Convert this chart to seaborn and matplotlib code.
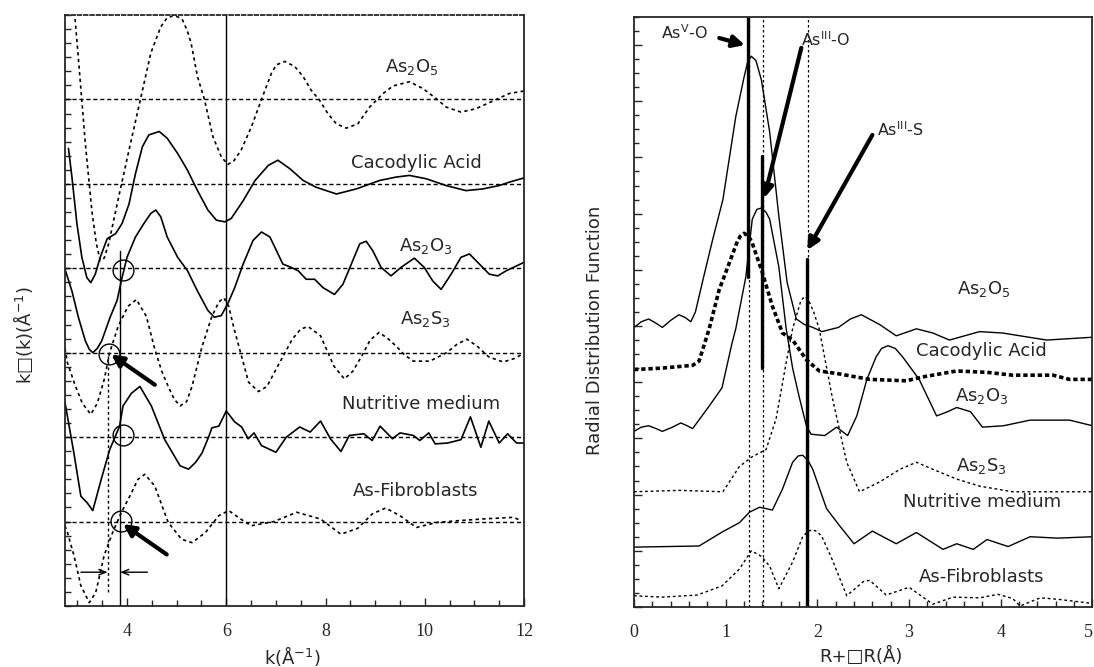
import pandas as pd
import matplotlib.pyplot as plt
import seaborn as sns
from matplotlib.ticker import MultipleLocator

sns.set_style('ticks')
plt.rcParams['font.family'] = ['DejaVu Sans']
plt.rcParams['mathtext.fontset'] = 'dejavusans'
plt.rcParams['xtick.direction'] = 'in'
plt.rcParams['ytick.direction'] = 'in'

# ---------------- left panel: k-space spectra (stacked, offset baselines) ----------------
baselines = [1, 2, 3, 4, 5, 6]

k_as2o5 = [2.75, 2.95, 3.05, 3.16, 3.29, 3.38, 3.46, 3.54, 3.63, 3.83, 4.04, 4.27, 4.48, 4.68, 4.8,
           4.92, 5.02, 5.12, 5.21, 5.29, 5.42, 5.56, 5.73, 5.9, 6.03, 6.15, 6.3, 6.51, 6.71, 6.91,
           7.01, 7.18, 7.38, 7.55, 7.71, 7.88, 8.05, 8.22, 8.42, 8.65, 8.89, 9.16, 9.36, 9.69,
           9.96, 10.23, 10.43, 10.73, 11.03, 11.37, 11.7, 12.0]
chi_as2o5 = [8.3, 6.98, 6.27, 5.48, 4.69, 4.3, 4.09, 4.12, 4.29, 4.84, 5.4, 6.0, 6.55, 6.86, 6.96,
             6.99, 6.98, 6.94, 6.82, 6.67, 6.27, 6.0, 5.56, 5.32, 5.23, 5.27, 5.4, 5.68, 6.0, 6.31,
             6.41, 6.45, 6.39, 6.27, 6.11, 5.99, 5.83, 5.71, 5.66, 5.71, 5.91, 6.07, 6.16, 6.21,
             6.13, 6.01, 5.91, 5.85, 5.89, 5.98, 6.07, 6.1]

k_caco = [2.82, 2.89, 2.99, 3.09, 3.19, 3.27, 3.36, 3.46, 3.6, 3.77, 3.9, 4.04, 4.17, 4.31, 4.44,
          4.65, 4.81, 5.02, 5.22, 5.42, 5.63, 5.8, 5.97, 6.1, 6.34, 6.58, 6.85, 7.04, 7.28, 7.55,
          7.81, 8.22, 8.62, 9.09, 9.42, 9.69, 10.03, 10.43, 10.83, 11.17, 11.5, 11.7, 12.0]
chi_caco = [5.42, 5.08, 4.53, 4.13, 3.89, 3.83, 3.93, 4.13, 4.35, 4.41, 4.53, 4.76, 5.12, 5.44, 5.58,
            5.62, 5.54, 5.36, 5.16, 4.92, 4.69, 4.57, 4.55, 4.59, 4.8, 5.04, 5.22, 5.28, 5.18, 5.04,
            4.96, 4.88, 4.94, 5.04, 5.08, 5.1, 5.06, 4.98, 4.92, 4.94, 4.98, 5.02, 5.07]

k_as2o3 = [2.75, 2.89, 3.02, 3.16, 3.24, 3.31, 3.4, 3.49, 3.66, 3.8, 3.9, 4.0, 4.17, 4.34, 4.48,
           4.58, 4.68, 4.81, 5.02, 5.22, 5.42, 5.63, 5.76, 5.9, 6.03, 6.17, 6.34, 6.54, 6.71, 6.88,
           7.01, 7.14, 7.31, 7.45, 7.61, 7.78, 7.95, 8.18, 8.35, 8.52, 8.69, 8.82, 8.95, 9.12,
           9.32, 9.52, 9.79, 9.99, 10.16, 10.33, 10.53, 10.73, 10.9, 11.1, 11.3, 11.47, 11.64, 12.0]
chi_as2o3 = [3.99, 3.73, 3.42, 3.14, 3.04, 3.0, 3.05, 3.14, 3.42, 3.62, 3.89, 4.13, 4.37, 4.53, 4.65,
             4.69, 4.61, 4.37, 4.13, 3.97, 3.73, 3.5, 3.42, 3.44, 3.58, 3.77, 4.05, 4.33, 4.43, 4.37,
             4.21, 4.05, 4.01, 3.97, 3.87, 3.87, 3.77, 3.69, 3.81, 4.05, 4.29, 4.32, 4.21, 4.01,
             3.91, 4.01, 4.12, 4.01, 3.85, 3.75, 3.93, 4.13, 4.17, 4.05, 3.93, 3.91, 3.97, 4.07]

k_as2s3 = [2.75, 2.8, 2.95, 3.1, 3.27, 3.4, 3.54, 3.65, 3.82, 4.02, 4.19, 4.39, 4.56, 4.7, 4.83,
           4.95, 5.07, 5.2, 5.31, 5.51, 5.71, 5.85, 5.95, 6.05, 6.15, 6.45, 6.65, 6.82, 7.0, 7.33,
           7.5, 7.65, 7.9, 8.17, 8.38, 8.55, 8.73, 8.9, 9.08, 9.25, 9.42, 9.6, 9.77, 10.1, 10.44,
           10.65, 10.85, 11.05, 11.29, 11.58, 11.8, 11.96]
chi_as2s3 = [3.05, 2.88, 2.62, 2.4, 2.27, 2.4, 2.68, 3.0, 3.31, 3.55, 3.63, 3.43, 3.04, 2.78, 2.6,
             2.45, 2.37, 2.42, 2.6, 3.07, 3.43, 3.6, 3.65, 3.55, 3.3, 2.65, 2.54, 2.6, 2.8, 3.16,
             3.28, 3.31, 3.2, 2.84, 2.69, 2.78, 2.96, 3.15, 3.24, 3.17, 3.08, 2.97, 2.9, 2.9, 3.0,
             3.1, 3.16, 3.08, 2.95, 2.89, 2.93, 2.98]

k_nutri = [2.75, 2.93, 3.07, 3.2, 3.31, 3.48, 3.65, 3.85, 3.92, 4.09, 4.26, 4.49, 4.76, 5.07, 5.24,
           5.38, 5.51, 5.65, 5.71, 5.85, 6.0, 6.17, 6.31, 6.44, 6.56, 6.71, 7.0, 7.21, 7.48, 7.69,
           7.9, 8.1, 8.31, 8.48, 8.77, 8.94, 9.1, 9.35, 9.5, 9.77, 9.9, 10.08, 10.21, 10.46,
           10.73, 10.92, 11.13, 11.29, 11.5, 11.67, 11.85, 12.0]
chi_nutri = [2.41, 1.81, 1.3, 1.22, 1.13, 1.5, 1.85, 2.13, 2.37, 2.52, 2.6, 2.37, 1.97, 1.66, 1.62,
             1.7, 1.81, 2.01, 2.11, 2.13, 2.31, 2.18, 2.12, 1.98, 2.05, 1.9, 1.82, 2.0, 2.12, 2.06,
             2.19, 1.98, 1.83, 2.02, 2.04, 1.96, 2.13, 1.98, 2.05, 2.02, 1.96, 2.05, 1.92, 1.93,
             1.97, 2.24, 1.88, 2.19, 1.93, 2.04, 1.93, 1.93]

k_fibro = [2.75, 2.8, 2.93, 3.07, 3.24, 3.37, 3.54, 3.71, 3.88, 4.09, 4.22, 4.36, 4.56, 4.83, 5.1,
           5.31, 5.58, 5.85, 6.05, 6.29, 6.5, 6.96, 7.42, 7.9, 8.31, 8.65, 8.94, 9.21, 9.5, 9.83,
           10.25, 10.67, 11.15, 11.79, 11.94]
chi_fibro = [0.95, 0.87, 0.6, 0.24, 0.04, 0.16, 0.6, 0.87, 1.1, 1.34, 1.5, 1.56, 1.42, 0.99, 0.79,
             0.75, 0.87, 1.07, 1.13, 1.03, 0.95, 1.0, 1.11, 1.03, 0.85, 0.92, 1.09, 1.16, 1.07, 0.93,
             0.99, 1.01, 1.03, 1.05, 1.01]

left_labels = ['As$_2$O$_5$', 'Cacodylic Acid', 'As$_2$O$_3$', 'As$_2$S$_3$',
               'Nutritive medium', 'As-Fibroblasts']
left_label_k = [9.73, 9.83, 10.02, 10.02, 9.92, 9.81]
left_label_y = [6.38, 5.25, 4.26, 3.4, 2.39, 1.36]

# edge markers (circles on the baselines)
circle_k = [3.92, 3.63, 3.92, 3.88]
circle_y = [3.98, 2.98, 2.02, 1.01]

# ---------------- right panel: radial distribution functions ----------------
r_as2o5 = [0.0, 0.08, 0.16, 0.24, 0.31, 0.4, 0.49, 0.56, 0.62, 0.67, 0.76, 0.86, 0.97, 1.11, 1.2,
           1.24, 1.28, 1.33, 1.39, 1.48, 1.58, 1.67, 1.77, 1.86, 1.95, 2.05, 2.23, 2.36, 2.48,
           2.68, 2.86, 3.08, 3.26, 3.44, 3.77, 4.02, 4.5, 5.0]
rdf_as2o5 = [19.9, 20.3, 20.5, 20.2, 19.9, 20.4, 20.8, 20.6, 20.3, 21.0, 23.5, 26.2, 29.0, 34.9, 37.7,
             38.8, 39.2, 38.9, 37.5, 33.8, 27.8, 23.1, 20.5, 20.1, 19.9, 19.6, 19.9, 20.5, 20.8,
             20.1, 19.3, 19.8, 19.5, 19.0, 19.6, 19.5, 19.0, 19.2]

r_caco = [0.0, 0.3, 0.64, 0.71, 0.82, 0.93, 1.0, 1.12, 1.16, 1.2, 1.25, 1.29, 1.4, 1.51, 1.62, 1.73,
          1.88, 2.02, 2.23, 2.57, 2.97, 3.17, 3.52, 3.85, 4.13, 4.57, 4.75, 5.0]
rdf_caco = [16.9, 17.0, 17.2, 17.5, 19.8, 22.6, 23.8, 25.9, 26.4, 26.6, 26.4, 25.9, 23.8, 21.4, 19.5,
            19.0, 17.6, 16.8, 16.6, 16.2, 16.1, 16.4, 16.8, 16.7, 16.5, 16.5, 16.2, 16.2]

r_as2o3 = [0.0, 0.08, 0.16, 0.24, 0.31, 0.42, 0.51, 0.58, 0.64, 0.82, 0.96, 1.07, 1.11, 1.22, 1.29,
           1.34, 1.39, 1.44, 1.48, 1.58, 1.66, 1.73, 1.8, 1.88, 1.93, 2.08, 2.21, 2.33, 2.43, 2.54,
           2.64, 2.7, 2.77, 2.85, 2.93, 3.11, 3.3, 3.42, 3.52, 3.67, 3.8, 4.03, 4.32, 4.75, 5.0]
rdf_as2o3 = [12.5, 12.8, 12.9, 12.7, 12.5, 12.8, 13.1, 12.9, 12.7, 14.3, 15.6, 18.8, 19.8, 23.5, 27.6,
             28.3, 28.4, 28.1, 27.6, 24.2, 19.8, 17.0, 15.0, 12.9, 12.3, 12.2, 12.8, 12.2, 13.6, 16.2,
             17.8, 18.4, 18.6, 18.4, 17.8, 16.2, 13.6, 13.9, 14.2, 13.9, 12.8, 12.9, 13.3, 13.3, 12.9]

r_as2s3 = [0.0, 0.5, 0.97, 1.15, 1.29, 1.44, 1.55, 1.66, 1.73, 1.82, 1.86, 1.9, 1.96, 2.02, 2.16,
           2.32, 2.46, 2.68, 2.9, 3.08, 3.26, 3.52, 3.77, 4.13, 5.0]
rdf_as2s3 = [8.2, 8.3, 8.2, 10.0, 10.7, 11.2, 13.4, 17.4, 19.8, 21.8, 22.1, 21.9, 21.0, 19.8, 15.0,
             10.3, 8.2, 8.9, 9.8, 10.3, 9.8, 9.1, 8.6, 8.2, 8.2]

r_nutri = [0.0, 0.71, 0.96, 1.15, 1.26, 1.37, 1.51, 1.62, 1.73, 1.79, 1.84, 1.9, 1.95, 2.1, 2.24,
           2.4, 2.6, 2.86, 3.08, 3.37, 3.52, 3.7, 3.85, 4.08, 4.32, 4.62, 5.0]
rdf_nutri = [4.26, 4.34, 5.33, 6.0, 6.75, 7.1, 6.9, 8.4, 10.3, 10.75, 10.8, 10.4, 9.8, 7.0, 5.8,
             4.5, 5.4, 4.5, 5.3, 4.1, 4.5, 4.1, 4.8, 4.3, 5.0, 4.9, 5.0]

r_fibro = [0.0, 0.31, 0.69, 0.96, 1.15, 1.28, 1.39, 1.48, 1.58, 1.73, 1.84, 1.9, 1.95, 2.0, 2.05,
           2.16, 2.32, 2.5, 2.57, 2.75, 3.0, 3.26, 3.48, 3.77, 3.97, 4.13, 4.21, 4.43, 4.62, 5.0]
rdf_fibro = [0.8, 0.7, 0.85, 1.5, 2.7, 4.0, 3.6, 2.9, 1.3, 3.2, 5.0, 5.4, 5.5, 5.35, 5.0,
             3.4, 0.8, 1.8, 1.9, 0.85, 1.4, 0.2, 0.7, 0.65, 0.9, 0.6, 0.07, 0.65, 0.55, 0.25]

right_labels = left_labels
right_label_r = [3.81, 3.79, 3.79, 3.79, 3.8, 3.79]
right_label_y = [22.6, 18.2, 15.0, 10.0, 7.46, 2.13]
r_ticks = [0, 1, 2, 3, 4, 5]

# bond positions (R) used for the reference lines
bond_r = [1.25, 1.41, 1.895]

DOT = (0, (2, 2))
DASH = (0, (3, 2))

fig = plt.figure(figsize=(10.94, 6.67), dpi=100)
ax1 = fig.add_axes([0.0594, 0.0915, 0.4196, 0.886])
ax2 = fig.add_axes([0.5795, 0.09, 0.4191, 0.8846])

# ---- left panel ----
for b in baselines:
    ax1.axhline(b, color='black', lw=1, ls=DASH)

left_curves = [(k_as2o5, chi_as2o5, DOT), (k_caco, chi_caco, '-'), (k_as2o3, chi_as2o3, '-'),
               (k_as2s3, chi_as2s3, DOT), (k_nutri, chi_nutri, '-'), (k_fibro, chi_fibro, DOT)]
for kk, vv, ls in left_curves:
    sns.lineplot(x=kk, y=vv, ax=ax1, color='black', lw=1.2, linestyle=ls, estimator=None)

ax1.axvline(6, color='black', lw=1)
ax1.plot([3.86, 3.86], [0, 4.2], color='black', lw=1)
ax1.plot([3.61, 3.61], [0.16, 3.0], color='black', lw=1, ls=DOT)
ax1.plot(circle_k, circle_y, 'o', mfc='none', mec='black', ms=15, mew=1)

thick = dict(arrowstyle='-|>,head_length=0.7,head_width=0.35', color='black', lw=3,
             shrinkA=0, shrinkB=0)
ax1.annotate('', xy=(3.68, 2.98), xytext=(4.56, 2.62), arrowprops=thick)
ax1.annotate('', xy=(3.92, 0.97), xytext=(4.8, 0.61), arrowprops=thick)
thin = dict(arrowstyle='->,head_length=0.5,head_width=0.2', color='black', lw=1,
            shrinkA=0, shrinkB=0)
ax1.annotate('', xy=(3.61, 0.4), xytext=(3.07, 0.4), arrowprops=thin)
ax1.annotate('', xy=(3.86, 0.4), xytext=(4.41, 0.4), arrowprops=thin)

for lab, kx, ky in zip(left_labels, left_label_k, left_label_y):
    ax1.text(kx, ky, lab, ha='center', va='center', fontsize=13)

ax1.set_xlim(2.75, 12)
ax1.set_ylim(0, 7)
ax1.xaxis.set_major_locator(MultipleLocator(2))
ax1.xaxis.set_minor_locator(MultipleLocator(0.5))
ax1.yaxis.set_major_locator(MultipleLocator(1 / 6))
ax1.tick_params(axis='x', which='major', length=6, width=1, pad=12)
ax1.tick_params(axis='x', which='minor', length=4, width=1)
ax1.tick_params(axis='y', length=4, width=1, labelleft=False)
ax1.spines['top'].set_linestyle((0, (2, 1.5)))
for t in ax1.get_xticklabels():
    t.set_fontfamily('Liberation Serif')
    t.set_fontsize(13)

# ---- right panel ----
right_curves = [(r_as2o5, rdf_as2o5, '-', 1.0), (r_caco, rdf_caco, (0, (1.2, 0.8)), 2.6),
                (r_as2o3, rdf_as2o3, '-', 1.0), (r_as2s3, rdf_as2s3, DOT, 1.0),
                (r_nutri, rdf_nutri, '-', 1.0), (r_fibro, rdf_fibro, DOT, 1.0)]
for rr, vv, ls, w in right_curves:
    sns.lineplot(x=rr, y=vv, ax=ax2, color='black', lw=w, linestyle=ls, estimator=None)

for br in bond_r:
    ax2.axvline(br, color='black', lw=0.9, ls=DOT)
ax2.plot([1.24, 1.24], [23.5, 42], color='black', lw=2.4)
ax2.plot([1.40, 1.40], [17.0, 32.1], color='black', lw=2.4)
ax2.plot([1.885, 1.885], [0, 24.8], color='black', lw=2.4)

ax2.annotate('', xy=(1.21, 40.0), xytext=(0.93, 40.5), arrowprops=thick)
ax2.annotate('', xy=(1.42, 29.1), xytext=(1.825, 39.8), arrowprops=thick)
ax2.annotate('', xy=(1.89, 25.4), xytext=(2.6, 33.6), arrowprops=thick)
ax2.text(0.295, 40.9, r'As$^{\mathregular{V}}$-O', ha='left', va='center', fontsize=11.5)
ax2.text(1.825, 40.4, r'As$^{\mathregular{III}}$-O', ha='left', va='center', fontsize=11.5)
ax2.text(2.645, 34.0, r'As$^{\mathregular{III}}$-S', ha='left', va='center', fontsize=11.5)

for lab, rx, ry in zip(right_labels, right_label_r, right_label_y):
    ax2.text(rx, ry, lab, ha='center', va='center', fontsize=13)

ax2.set_xlim(0, 5)
ax2.set_ylim(0, 42)
ax2.set_xticks(r_ticks)
rlabels = ax2.set_xticklabels([str(v) for v in r_ticks], fontfamily='Liberation Serif', fontsize=13)
rlabels[-1].set_horizontalalignment('right')
ax2.xaxis.set_minor_locator(MultipleLocator(0.2))
ax2.yaxis.set_major_locator(MultipleLocator(4))
ax2.yaxis.set_minor_locator(MultipleLocator(1))
ax2.tick_params(axis='x', which='major', length=6, width=1, pad=12)
ax2.tick_params(axis='x', which='minor', length=4, width=1)
ax2.tick_params(axis='y', which='major', length=6, width=1, labelleft=False)
ax2.tick_params(axis='y', which='minor', length=3.5, width=1)

for ax in (ax1, ax2):
    ax.set_xlabel('')
    ax.set_ylabel('')
    for sp in ax.spines.values():
        sp.set_linewidth(1.3)

fig.text(0.021, 0.498, 'k\u25a1(k)(Å$^{\\mathregular{-1}}$)', rotation=90, ha='center', va='center',
         fontsize=13)
fig.text(0.267, 0.0165, 'k(Å$^{\\mathregular{-1}}$)', ha='center', va='center', fontsize=13)
fig.text(0.544, 0.505, 'Radial Distribution Function', rotation=90, ha='center', va='center',
         fontsize=13)
fig.text(0.787, 0.0165, 'R+\u25a1R(Å)', ha='center', va='center', fontsize=13)

fig.savefig('out.png', dpi=100)
